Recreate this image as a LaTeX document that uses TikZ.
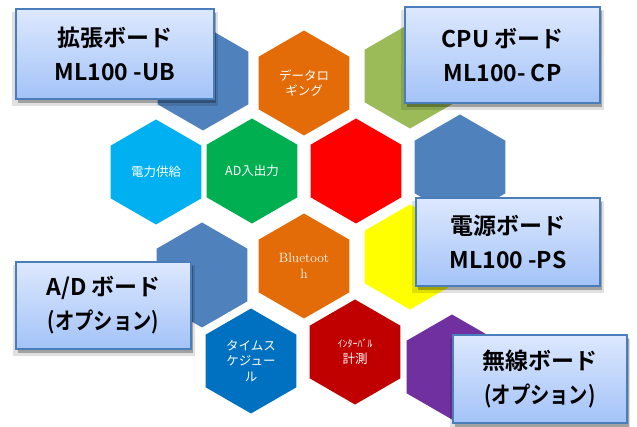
\documentclass[tikz,border=0pt]{standalone}
\usepackage{fontspec}
\newfontfamily\jp{Noto Sans CJK JP}[BoldFont={Noto Sans CJK JP Bold}]
\usetikzlibrary{shapes.geometric,shadows}
\definecolor{steel}{HTML}{4F81BD}
\definecolor{orng}{HTML}{E36C09}
\definecolor{olive}{HTML}{9BBB59}
\definecolor{lblue}{HTML}{00B0F0}
\definecolor{grn}{HTML}{00B050}
\definecolor{rd}{HTML}{FF0000}
\definecolor{drd}{HTML}{C00000}
\definecolor{dblue}{HTML}{0070C0}
\definecolor{purp}{HTML}{7030A0}
\definecolor{yel}{HTML}{FFFF00}
\definecolor{boxtop}{HTML}{DDE8FE}
\definecolor{boxbot}{HTML}{A3C3F7}
\definecolor{boxline}{HTML}{4A7EBB}
\newcommand{\optline}{\scalebox{0.84}[1]{(オプション)}}
\tikzset{
  hex/.style={regular polygon, regular polygon sides=6, shape border rotate=30,
    minimum size=105pt, inner sep=0pt, text=white, align=center,
    font=\jp\fontsize{12.5}{15.5}\selectfont},
  board/.style={draw=boxline, line width=1.2pt, top color=boxtop, bottom color=boxbot,
    align=center, inner sep=0pt, font=\jp\bfseries\fontsize{23}{34}\selectfont,
    drop shadow={shadow xshift=0pt, shadow yshift=-5pt, shadow scale=1.04, opacity=.12, fill=black},
    drop shadow={shadow xshift=2pt, shadow yshift=-4pt, opacity=.28, fill=black}}
}
\begin{document}
\begin{tikzpicture}[x=1pt,y=-1pt]
\useasboundingbox[fill=white] (0,0) rectangle (637,427);
% hexagons
\node[hex, fill=steel] (h1) at (203,78) {};
\node[hex, fill=orng] (h2) at (304,83) {データロ\\ギング};
\node[hex, fill=olive] (h3) at (410,76) {};
\node[hex, fill=lblue] (h4) at (156,172) {電力供給};
\node[hex, fill=grn] (h5) at (252,171) {AD入出力};
\node[hex, fill=rd] (h6) at (356,171) {};
\node[hex, fill=steel] (h7) at (460,167) {};
\node[hex, fill=steel] (h8) at (202,275) {};
\node[hex, fill=orng, font=\rmfamily\fontsize{13.5}{15.5}\selectfont] (h9) at (304,266) {Bluetoot\\h};
\node[hex, fill=yel] (h10) at (410,257) {};
\node[hex, fill=dblue] (h11) at (251,361) {タイムス\\ケジュー\\ル};
\node[hex, fill=drd] (h12) at (355,352) {{\fontsize{10}{15.5}\selectfont ｲﾝﾀｰﾊﾞﾙ}\\計測};
\node[hex, fill=purp] (h13) at (452,367) {};
% boards
\node[board, minimum width=198pt, minimum height=90pt] (ub) at (115,54) {拡張ボード\\ML100 -UB};
\node[board, minimum width=195pt, minimum height=96pt] (cp) at (502.5,55) {CPU ボード\\ML100- CP};
\node[board, minimum width=184pt, minimum height=88pt] (ps) at (508,242) {電源ボード\\ML100 -PS};
\node[board, minimum width=175pt, minimum height=87pt] (ad) at (103.5,305.5) {A/D ボード\\\optline};
\node[board, minimum width=174pt, minimum height=88pt] (mu) at (540,379) {無線ボード\\\optline};
\end{tikzpicture}
\end{document}
